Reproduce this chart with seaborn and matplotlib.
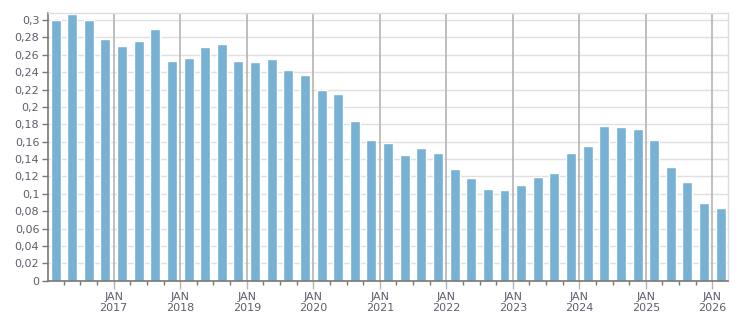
import matplotlib
matplotlib.use("Agg")
import matplotlib.pyplot as plt
import seaborn as sns
import numpy as np
import pandas as pd

# quarterly values, 2016 Q1 .. 2026 Q1
quarters = pd.period_range("2016Q1", "2026Q1", freq="Q").astype(str).tolist()
values = [0.300, 0.307, 0.300, 0.278, 0.270, 0.276, 0.290, 0.253, 0.256, 0.269,
          0.272, 0.253, 0.252, 0.255, 0.242, 0.237, 0.219, 0.215, 0.184, 0.162,
          0.158, 0.145, 0.153, 0.147, 0.1285, 0.118, 0.1055, 0.104, 0.110, 0.119,
          0.124, 0.147, 0.155, 0.178, 0.177, 0.1746, 0.162, 0.131, 0.1136, 0.0894,
          0.0837]
years = list(range(2017, 2027))
y_ticks = [0, 0.02, 0.04, 0.06, 0.08, 0.1, 0.12, 0.14, 0.16, 0.18, 0.2, 0.22,
           0.24, 0.26, 0.28, 0.3]

df = pd.DataFrame({"quarter": quarters, "value": values})

bar_color = "#77b1d3"
text_color = "#5f5c6c"

sns.set_style("white")
plt.rcParams["font.family"] = ["DejaVu Sans"]

fig = plt.figure(figsize=(7.51, 3.13), dpi=100)
ax = fig.add_axes([47.7 / 751, (313 - 280.7) / 313, (728 - 47.7) / 751, (280.7 - 13.3) / 313])

sns.barplot(data=df, x="quarter", y="value", order=quarters, color=bar_color,
            saturation=1, width=0.6, ax=ax, zorder=3)

# horizontal grid
for v in y_ticks:
    ax.axhline(v, color="#e0e0e0", lw=1, zorder=1)

# year lines (JAN) sit at quarter boundaries
jan_pos = [quarters.index(f"{y}Q1") - 0.5 for y in years]
for x in jan_pos:
    ax.axvline(x, color="#b4b4b4", lw=1.2, zorder=2)

ax.set_xlim(-0.47, 40.44)
ax.set_ylim(0, 0.3077)

minor_pos = [i - 0.5 for i in range(1, len(quarters)) if not quarters[i].endswith("Q1")]
ax.set_xticks(jan_pos)
ax.set_xticklabels([f"JAN\n{y}" for y in years])
ax.set_xticks(minor_pos, minor=True)
ax.set_yticks(y_ticks)
ax.set_yticklabels([("%g" % v).replace(".", ",") for v in y_ticks])

ax.tick_params(axis="x", which="major", length=6, width=1, color="#b4b4b4",
               labelsize=8, labelcolor=text_color, pad=2)
ax.tick_params(axis="x", which="minor", length=3, width=1, color="#777777")
ax.tick_params(axis="y", length=4, width=1, color="#777777", labelsize=8,
               labelcolor=text_color, pad=2)
ax.tick_params(bottom=True, left=True, which="both")

ax.set_xlabel("")
ax.set_ylabel("")

for side in ["left", "bottom"]:
    ax.spines[side].set_color("#777777")
    ax.spines[side].set_linewidth(1.2)
for side in ["top", "right"]:
    ax.spines[side].set_visible(True)
    ax.spines[side].set_color("#dddddd")
    ax.spines[side].set_linewidth(1)
for s in ax.spines.values():
    s.set_zorder(4)

fig.savefig("out.png", dpi=100)
